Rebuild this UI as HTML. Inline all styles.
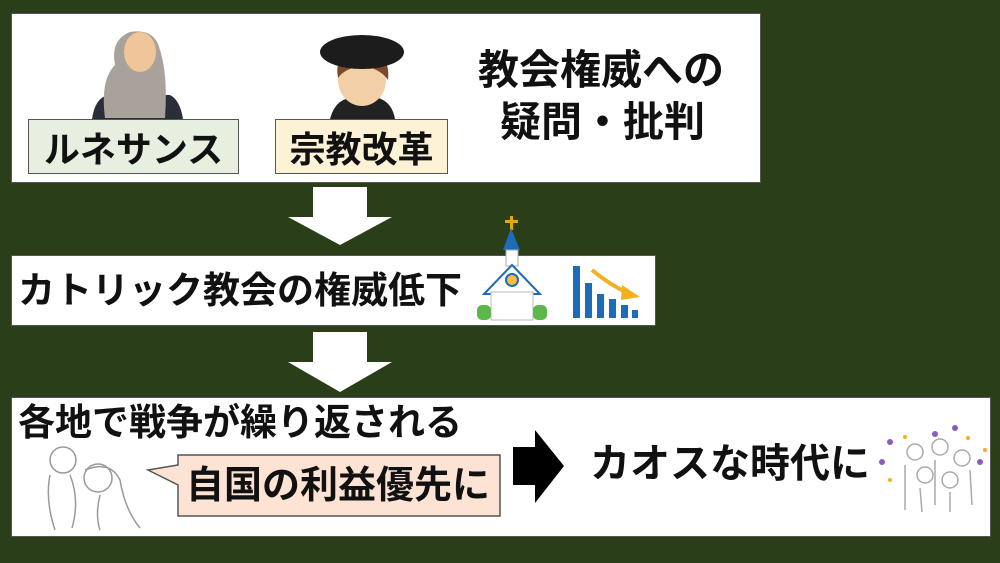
<!DOCTYPE html>
<html><head><meta charset="utf-8">
<style>
body{margin:0;width:1000px;height:563px;background:#2a3e1a;position:relative;overflow:hidden;font-family:"Liberation Sans","Noto Sans CJK JP",sans-serif;font-weight:bold;color:#111}
.box{position:absolute;background:#fff;border:1px solid #555;box-sizing:border-box}
.t{position:absolute;white-space:nowrap;line-height:1}
.lab{position:absolute;border:1.5px solid #555;box-sizing:border-box;display:flex;align-items:center;justify-content:center;font-size:36px}
</style></head><body>
<div class="box" style="left:11px;top:13px;width:750px;height:170px"></div>
<div class="box" style="left:11px;top:255px;width:645px;height:71px"></div>
<div class="box" style="left:11px;top:397px;width:980px;height:140px"></div>

<svg style="position:absolute;left:0;top:0" width="1000" height="563">
<polygon points="313,187 367,187 367,217 392,217 340,245 288,217 313,217" fill="#fff"/>
<polygon points="313,332 367,332 367,362 392,362 340,392 288,362 313,362" fill="#fff"/>
<polygon points="513,447 535,447 535,430 564,466 535,503 535,485 513,485" fill="#000"/>
<!-- renaissance man -->
<path d="M92,119 Q95,98 108,95 L170,95 Q180,100 183,119Z" fill="#2a2e3a"/>
<path d="M105,118 Q100,80 115,65 Q110,40 130,32 Q155,28 160,50 Q168,75 165,118Z" fill="#a8a29a"/>
<ellipse cx="140" cy="52" rx="16" ry="20" fill="#f0c59a"/>
<!-- luther -->
<path d="M330,119 Q335,100 350,98 L378,98 Q392,102 395,119Z" fill="#222"/>
<ellipse cx="362" cy="80" rx="24" ry="26" fill="#f3cfa8"/>
<path d="M338,78 Q335,60 345,58 L380,58 Q390,62 388,80 Q380,68 362,66 Q345,68 338,78Z" fill="#7a4a2a"/>
<ellipse cx="362" cy="52" rx="42" ry="17" fill="#1c1c1c"/>
<!-- church -->
<rect x="510" y="216" width="3" height="14" fill="#e8a800"/><rect x="505" y="220" width="13" height="3" fill="#e8a800"/>
<polygon points="511,228 503,250 520,250" fill="#1e6bb8"/>
<rect x="506" y="250" width="12" height="16" fill="#fff" stroke="#aaa"/>
<polygon points="512,265 484,294 540,294" fill="#fff" stroke="#1e6bb8" stroke-width="2"/>
<rect x="491" y="292" width="42" height="28" fill="#fff" stroke="#bbb"/>
<circle cx="512" cy="280" r="6" fill="#f5c040" stroke="#1e6bb8" stroke-width="2"/>
<rect x="477" y="305" width="14" height="15" rx="5" fill="#5cb848"/><rect x="533" y="305" width="14" height="15" rx="5" fill="#5cb848"/>
<!-- chart -->
<rect x="573" y="266" width="7" height="52" fill="#1e6bb8"/><rect x="585" y="283" width="7" height="35" fill="#1e6bb8"/>
<rect x="597" y="294" width="7" height="24" fill="#1e6bb8"/><rect x="609" y="299" width="7" height="19" fill="#1e6bb8"/>
<rect x="621" y="305" width="7" height="13" fill="#1e6bb8"/><rect x="632" y="310" width="6" height="8" fill="#1e6bb8"/>
<path d="M592,270 Q610,285 628,293" stroke="#f2b01e" stroke-width="4" fill="none"/>
<polygon points="622,285 640,297 621,300" fill="#f2b01e"/>
<!-- fighters -->
<g fill="none" stroke="#999" stroke-width="1.5">
<circle cx="63" cy="460" r="13"/><circle cx="98" cy="478" r="14"/>
<path d="M50,475 Q45,500 55,530 M70,475 Q80,500 72,528 M85,470 Q110,460 120,480 Q125,510 140,528 M100,495 Q95,515 100,530"/>
</g>
<!-- crowd -->
<g fill="none" stroke="#aaa" stroke-width="1.5">
<circle cx="915" cy="452" r="8"/><circle cx="940" cy="447" r="8"/><circle cx="962" cy="458" r="8"/><circle cx="925" cy="475" r="8"/><circle cx="950" cy="480" r="8"/>
<path d="M905,465 L905,510 M920,488 L922,512 M950,492 L950,512 M970,470 L972,505 M935,460 L935,505"/>
</g>
<g fill="#8a5cc0"><circle cx="890" cy="442" r="3"/><circle cx="935" cy="434" r="3"/><circle cx="955" cy="428" r="3"/><circle cx="980" cy="462" r="3"/><circle cx="882" cy="462" r="3"/></g>
<g fill="#f2b01e"><circle cx="905" cy="437" r="2"/><circle cx="968" cy="438" r="2"/><circle cx="985" cy="450" r="2"/><circle cx="890" cy="480" r="2"/></g>
<!-- bubble -->
<polygon points="178,455 500,455 500,516 178,516 178,485 148,470 178,465" fill="#fce3d4" stroke="#555" stroke-width="1.5"/>
</svg>

<div class="lab" style="left:28px;top:119px;width:211px;height:55px;background:#e6efe0">ルネサンス</div>
<div class="lab" style="left:275px;top:119px;width:173px;height:55px;background:#fdf1d6">宗教改革</div>
<div class="t" style="left:478px;top:50px;font-size:41px">教会権威への</div>
<div class="t" style="left:500px;top:102px;font-size:41px">疑問・批判</div>
<div class="t" style="left:18px;top:272px;font-size:37px">カトリック教会の権威低下</div>
<div class="t" style="left:18px;top:404px;font-size:37px">各地で戦争が繰り返される</div>
<div class="t" style="left:186px;top:467px;font-size:38px">自国の利益優先に</div>
<div class="t" style="left:590px;top:444px;font-size:40px">カオスな時代に</div>
</body></html>
